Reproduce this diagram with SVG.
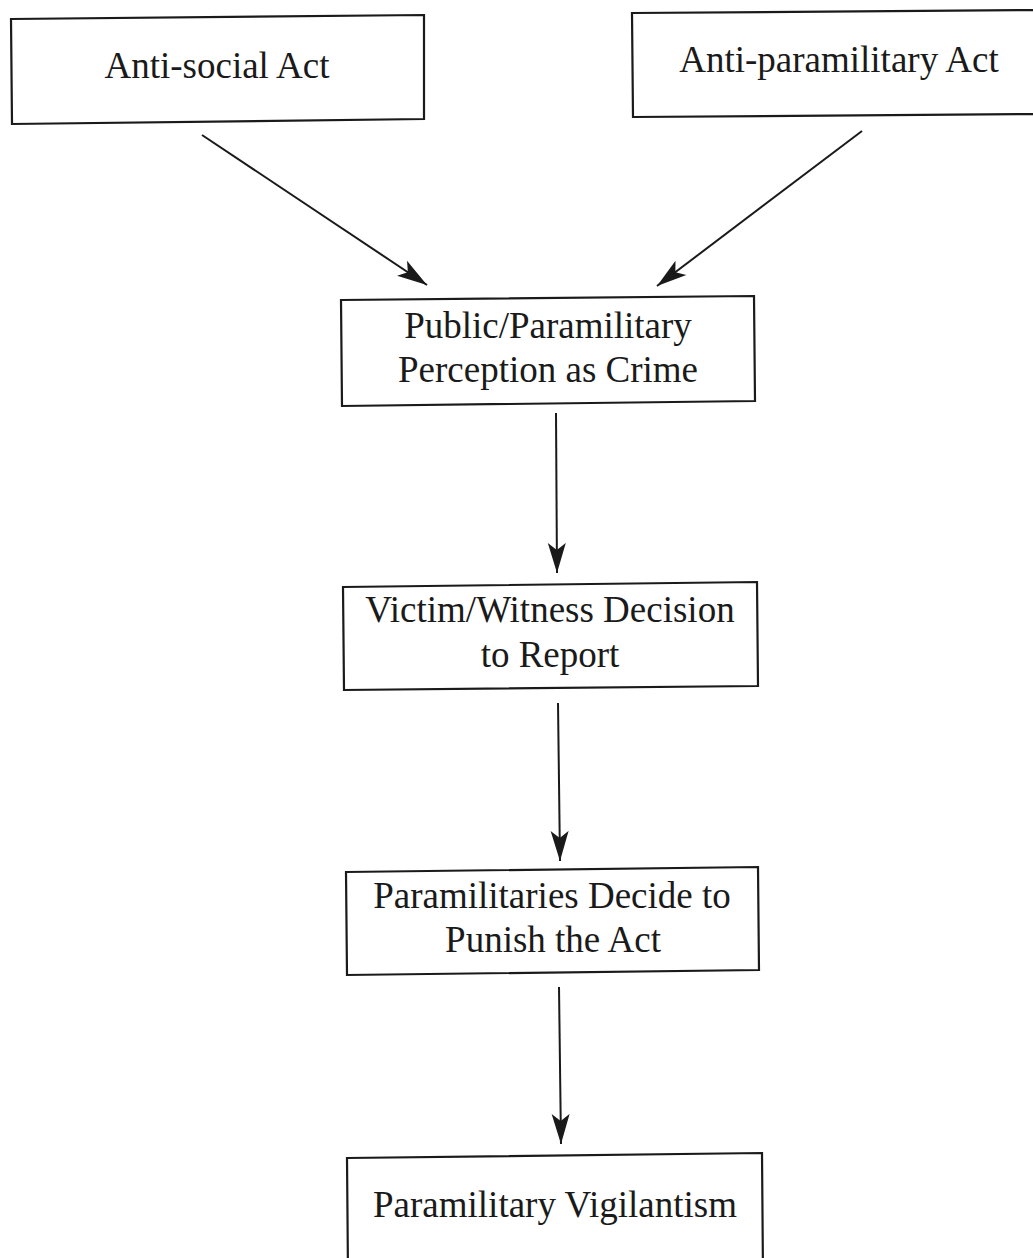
<svg xmlns="http://www.w3.org/2000/svg" width="1033" height="1258" viewBox="0 0 1033 1258">
<style>
.box{fill:#fff;stroke:#1a1a1a;stroke-width:2.2}
.lbl{font-family:"Liberation Serif","Times New Roman",serif;font-size:37px;fill:#1a1a1a;text-anchor:middle}
.edge{stroke:#1a1a1a;stroke-width:2;fill:none}
</style>
<defs>
<marker id="ah" viewBox="0 0 30 20" refX="30" refY="10" markerWidth="30" markerHeight="20" markerUnits="userSpaceOnUse" orient="auto">
<path d="M0,1 L30,10 L0,19 L7,10 Z" fill="#1a1a1a"/>
</marker>
</defs>
<rect width="1033" height="1258" fill="#fff"/>
<g id="connectors">
<line class="edge" x1="202" y1="135" x2="427" y2="285" marker-end="url(#ah)"/>
<line class="edge" x1="862" y1="131" x2="657" y2="286" marker-end="url(#ah)"/>
<line class="edge" x1="556" y1="413" x2="557" y2="573" marker-end="url(#ah)"/>
<line class="edge" x1="558" y1="703" x2="560" y2="861" marker-end="url(#ah)"/>
<line class="edge" x1="559" y1="987" x2="561" y2="1144" marker-end="url(#ah)"/>
</g>
<g id="n1">
<polygon class="box" points="11,19 424,15 424,119 12,124"/>
<text class="lbl" x="217" y="78">Anti-social Act</text>
</g>
<g id="n2">
<polygon class="box" points="632,13 1040,10 1040,114 633,117"/>
<text class="lbl" x="839" y="72">Anti-paramilitary Act</text>
</g>
<g id="n3">
<polygon class="box" points="341,300 754,296 755,401 342,406"/>
<text class="lbl" x="548" y="338">Public/Paramilitary</text>
<text class="lbl" x="548" y="382">Perception as Crime</text>
</g>
<g id="n4">
<polygon class="box" points="343,587 757,582 758,686 344,690"/>
<text class="lbl" x="550" y="622">Victim/Witness Decision</text>
<text class="lbl" x="550" y="667">to Report</text>
</g>
<g id="n5">
<polygon class="box" points="346,872 758,867 759,970 347,975"/>
<text class="lbl" x="552" y="908">Paramilitaries Decide to</text>
<text class="lbl" x="553" y="952">Punish the Act</text>
</g>
<g id="n6">
<polygon class="box" points="347,1158 762,1153 763,1275 348,1275"/>
<text class="lbl" x="555" y="1217">Paramilitary Vigilantism</text>
</g>
</svg>
